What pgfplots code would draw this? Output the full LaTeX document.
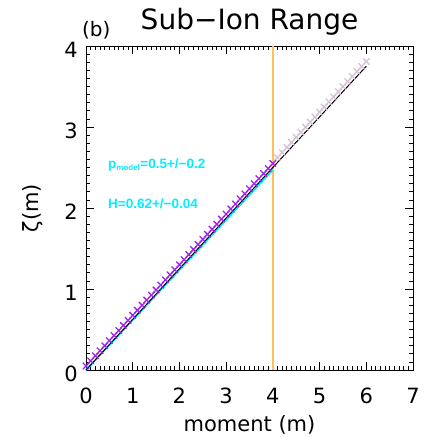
\documentclass[border=0pt]{standalone}
\usepackage{pgfplots}
\pgfplotsset{compat=1.18}
\usepackage{fontspec}
\setmainfont{DejaVu Sans}
\newfontfamily\annfont{Liberation Sans}
\definecolor{idlpurple}{RGB}{160,32,240}
\definecolor{idlthistle}{RGB}{216,191,216}
\definecolor{idlorange}{RGB}{255,190,90}
\definecolor{idlcyan}{RGB}{0,240,255}
\begin{document}
\begin{tikzpicture}
\begin{axis}[
  scale only axis,
  width=327pt, height=324pt,
  xmin=0, xmax=7, ymin=0, ymax=4,
  xtick={0,1,2,3,4,5,6,7}, ytick={0,1,2,3,4},
  minor x tick num=9, minor y tick num=9,
  tick align=inside,
  major tick length=8pt, minor tick length=4pt,
  tick style={black, line width=0.8pt},
  axis line style={black, line width=0.9pt},
  /pgf/number format/assume math mode=true,
  tick label style={font=\fontsize{21}{21}\selectfont},
  xticklabel style={anchor=north, inner sep=0pt, yshift=-18pt},
  yticklabel style={anchor=east, inner sep=0pt, xshift=-8pt, yshift=-4pt},
  label style={font=\fontsize{21}{21}\selectfont},
  xlabel={moment (m)},
  ylabel={ζ(m)},
  xlabel style={at={(rel axis cs:0.5,0)}, anchor=north, inner sep=0pt, yshift=-45pt},
  ylabel style={at={(rel axis cs:-0.162,0.5)}, anchor=center, inner sep=0pt},
  title={Sub\textminus Ion Range},
  title style={font=\fontsize{28}{28}\selectfont, at={(rel axis cs:0.5,1)}, anchor=base, inner sep=0pt, yshift=11pt},
  clip=false,
]
\addplot[idlorange, line width=1.6pt] coordinates {(4,0) (4,4)};
\addplot[only marks, mark=x, mark size=4.5pt, idlthistle, mark options={line width=1.3pt}] coordinates {
(4.1,2.623) (4.2,2.685) (4.3,2.748) (4.4,2.810) (4.5,2.873) (4.6,2.935) (4.7,2.998) (4.8,3.060) (4.9,3.123) (5.0,3.185)
(5.1,3.248) (5.2,3.310) (5.3,3.373) (5.4,3.435) (5.5,3.498) (5.6,3.560) (5.7,3.623) (5.8,3.685) (5.9,3.748) (6.0,3.810)
};
\addplot[only marks, mark=x, mark size=4.5pt, idlpurple, mark options={line width=1.3pt}] coordinates {
(0.0,0.050) (0.1,0.113) (0.2,0.175) (0.3,0.238) (0.4,0.300) (0.5,0.363) (0.6,0.425) (0.7,0.488) (0.8,0.550) (0.9,0.613)
(1.0,0.675) (1.1,0.738) (1.2,0.800) (1.3,0.863) (1.4,0.925) (1.5,0.988) (1.6,1.050) (1.7,1.113) (1.8,1.175) (1.9,1.238)
(2.0,1.300) (2.1,1.363) (2.2,1.425) (2.3,1.488) (2.4,1.550) (2.5,1.613) (2.6,1.675) (2.7,1.738) (2.8,1.800) (2.9,1.863)
(3.0,1.925) (3.1,1.988) (3.2,2.050) (3.3,2.113) (3.4,2.175) (3.5,2.238) (3.6,2.300) (3.7,2.363) (3.8,2.425) (3.9,2.488)
(4.0,2.550)
};
\addplot[idlcyan, line width=1.8pt] coordinates {(0,0) (4,2.47)};
\addplot[black, line width=1.0pt] coordinates {(0,0) (6,3.75)};
\node[anchor=base west, inner sep=0pt, text=idlcyan, font=\annfont\fontsize{13.5}{13.5}\selectfont\bfseries] at (axis cs:0.47,2.49) {p\textsubscript{\fontsize{8}{8}\selectfont model}=0.5+/\textminus 0.2};
\node[anchor=base west, inner sep=0pt, text=idlcyan, font=\annfont\fontsize{13.5}{13.5}\selectfont\bfseries] at (axis cs:0.47,1.99) {H=0.62+/\textminus 0.04};
\node[anchor=base west, font=\fontsize{20}{20}\selectfont, inner sep=0pt] at ([xshift=-4pt,yshift=10pt]rel axis cs:0,1) {(b)};
\end{axis}
\pgfresetboundingbox
\path (current axis.south west) ++(-86pt,-67pt) coordinate (bl);
\path (current axis.south west) ++(342pt,370pt) coordinate (tr);
\useasboundingbox (bl) rectangle (tr);
\end{tikzpicture}
\end{document}
